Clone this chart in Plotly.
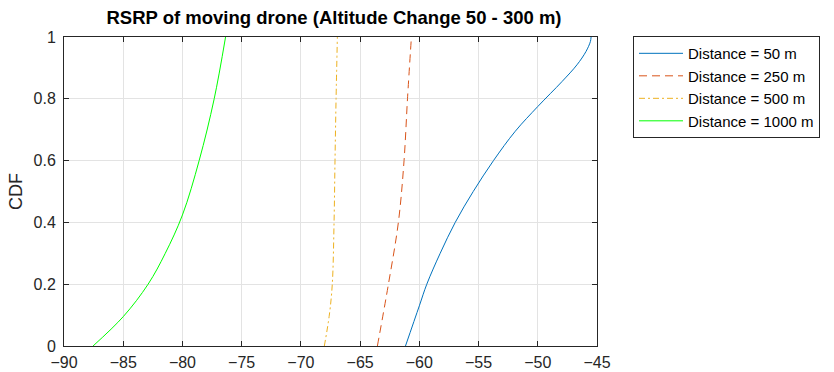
import plotly.graph_objects as go

cdf_50 = [0.0, 0.13, 0.2, 0.3, 0.4, 0.5, 0.6, 0.695, 0.775, 0.856, 0.91, 0.953, 0.985, 1.0]
rsrp_50 = [-61.17, -60.0, -59.37, -58.24, -56.97, -55.45, -53.74, -51.90, -50.0, -47.95, -46.69, -45.93, -45.56, -45.5]

cdf_250 = [0.0, 0.2, 0.4, 0.6, 0.8, 1.0]
rsrp_250 = [-63.54, -62.61, -61.77, -61.29, -61.0, -60.67]

cdf_500 = [0.0, 0.1, 0.2, 0.4, 0.6, 0.8, 1.0]
rsrp_500 = [-68.02, -67.6, -67.35, -67.2, -67.12, -67.03, -66.92]

cdf_1000 = [0.0, 0.095, 0.2, 0.3, 0.424, 0.6, 0.8, 1.0]
rsrp_1000 = [-87.55, -85.0, -82.9, -81.45, -80.0, -78.59, -77.32, -76.36]

x_ticks = [-90, -85, -80, -75, -70, -65, -60, -55, -50, -45]
y_ticks = [0, 0.2, 0.4, 0.6, 0.8, 1]

FONT = "Liberation Sans, Arial, Helvetica"

fig = go.Figure()
fig.add_trace(go.Scatter(x=rsrp_50, y=cdf_50, mode="lines", name="Distance = 50 m",
                         line=dict(color="#0072BD", width=1, shape="spline", smoothing=1.0)))
fig.add_trace(go.Scatter(x=rsrp_250, y=cdf_250, mode="lines", name="Distance = 250 m",
                         line=dict(color="#D95319", width=1, dash="8px,5px", shape="spline")))
fig.add_trace(go.Scatter(x=rsrp_500, y=cdf_500, mode="lines", name="Distance = 500 m",
                         line=dict(color="#EDB120", width=1, dash="6px,3px,2px,3px", shape="spline")))
fig.add_trace(go.Scatter(x=rsrp_1000, y=cdf_1000, mode="lines", name="Distance = 1000 m",
                         line=dict(color="#00FF00", width=1, shape="spline", smoothing=1.0)))

axis_common = dict(showline=True, linecolor="#262626", linewidth=1, mirror="ticks",
                   ticks="inside", ticklen=5, tickcolor="#262626", showgrid=True,
                   gridcolor="#e3e3e3", gridwidth=1, zeroline=False, automargin=False,
                   tickfont=dict(family=FONT, size=16, color="#262626"))

fig.update_layout(
    width=834, height=372,
    margin=dict(l=64, r=237, t=37, b=26),
    paper_bgcolor="white", plot_bgcolor="white",
    title=dict(text="<b>RSRP of moving drone (Altitude Change 50 - 300 m)</b>",
               x=334 / 834, xanchor="center", xref="container",
               y=1 - 18 / 372, yanchor="middle",
               font=dict(family=FONT, size=18.5, color="#000000")),
    xaxis=dict(range=[-90, -45], tickvals=x_ticks, ticklabelstandoff=2, **axis_common),
    yaxis=dict(range=[0, 1], tickvals=y_ticks, ticklabelstandoff=4,
               title=dict(text="CDF", font=dict(family=FONT, size=18, color="#262626"), standoff=6),
               **axis_common),
    legend=dict(x=(633 - 64) / 533, y=1.003, xanchor="left", yanchor="top",
                bordercolor="#262626", borderwidth=1, bgcolor="white",
                font=dict(family=FONT, size=15, color="#000000"),
                itemwidth=44, tracegroupgap=0),
    showlegend=True,
)

fig.write_html("out.html", config={"displayModeBar": False},
               post_script="document.body.style.margin='0';")
